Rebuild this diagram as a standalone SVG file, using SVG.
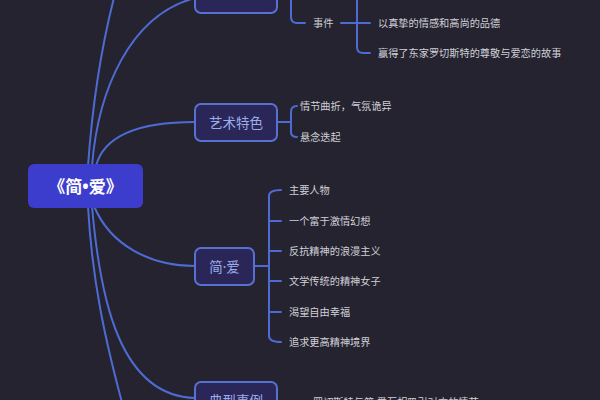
<svg xmlns="http://www.w3.org/2000/svg" width="600" height="400" viewBox="0 0 600 400">
<style>
.bg{fill:#25232f}
.ln{fill:none;stroke:#4d6bd3;stroke-width:2;stroke-linecap:round}
.topic rect{fill:#2a2758;stroke:#5671d0;stroke-width:2}
.topic text{fill:#9cadea;font-family:"Noto Sans","Noto Sans CJK SC",sans-serif;font-size:13.5px;text-anchor:middle;dominant-baseline:central}
.leaf{fill:#d0d0d8;font-family:"Noto Sans","Noto Sans CJK SC",sans-serif;font-size:10.2px;dominant-baseline:central}
</style>
<rect class="bg" x="0" y="0" width="600" height="400"/>
<g id="connectors">
<path class="ln" d="M88 166 C92 110 100 50 116 -10"/>
<path class="ln" d="M92 166 C98 90 130 15 195 -2"/>
<path class="ln" d="M96 166 C104 135 140 122 195 122"/>
<path class="ln" d="M94 206 C110 245 150 266 195 266"/>
<path class="ln" d="M88 206 C92 280 105 340 124 410"/>
<path class="ln" d="M92 206 C100 300 120 396 195 398"/>
<path class="ln" d="M277 -2 H290"/>
<path class="ln" d="M291 -10 V17 Q291 23 297 23 H305"/>
<path class="ln" d="M341 23 H370"/>
<path class="ln" d="M357 -10 V47 Q357 53 363 53 H370"/>
<path class="ln" d="M277 122 H290"/>
<path class="ln" d="M297 106 Q291 106 291 112 V132 Q291 137 297 137"/>
<path class="ln" d="M254 266 H268"/>
<path class="ln" d="M281 190 Q269 190 269 196 V336 Q269 342 281 342"/>
<path class="ln" d="M269 221 H281 M269 251 H281 M269 281 H281 M269 312 H281"/>
<path class="ln" d="M277 401 H300"/>
</g>
<g id="root">
<rect x="28" y="164" width="115" height="44" rx="6" fill="#3d3dcd"/>
<text x="85.5" y="186" fill="#ffffff" font-family="Noto Sans,Noto Sans CJK SC,sans-serif" font-size="17" font-weight="bold" text-anchor="middle" dominant-baseline="central">《简•爱》</text>
</g>
<g id="topic-top" class="topic">
<rect x="195" y="-24" width="82" height="37" rx="6"/>
</g>
<g id="topic-art" class="topic">
<rect x="195" y="104" width="82" height="37" rx="6"/>
<text x="236" y="122.5">艺术特色</text>
</g>
<g id="topic-jane" class="topic">
<rect x="195" y="248" width="59" height="37" rx="6"/>
<text x="224.5" y="266.5">简·爱</text>
</g>
<g id="topic-case" class="topic">
<rect x="195" y="382" width="82" height="37" rx="6"/>
<text x="236" y="400.5">典型事例</text>
</g>
<g id="leaves">
<text class="leaf" x="313" y="23">事件</text>
<text class="leaf" x="378" y="23">以真挚的情感和高尚的品德</text>
<text class="leaf" x="378" y="53">赢得了东家罗切斯特的尊敬与爱恋的故事</text>
<text class="leaf" x="300" y="106">情节曲折，气氛诡异</text>
<text class="leaf" x="300" y="137">悬念迭起</text>
<text class="leaf" x="289" y="190">主要人物</text>
<text class="leaf" x="289" y="221">一个富于激情幻想</text>
<text class="leaf" x="289" y="251">反抗精神的浪漫主义</text>
<text class="leaf" x="289" y="281">文学传统的精神女子</text>
<text class="leaf" x="289" y="312">渴望自由幸福</text>
<text class="leaf" x="289" y="342">追求更高精神境界</text>
<text class="leaf" x="313" y="402">罗切斯特与简·爱互相吸引对方的情节</text>
</g>
</svg>
